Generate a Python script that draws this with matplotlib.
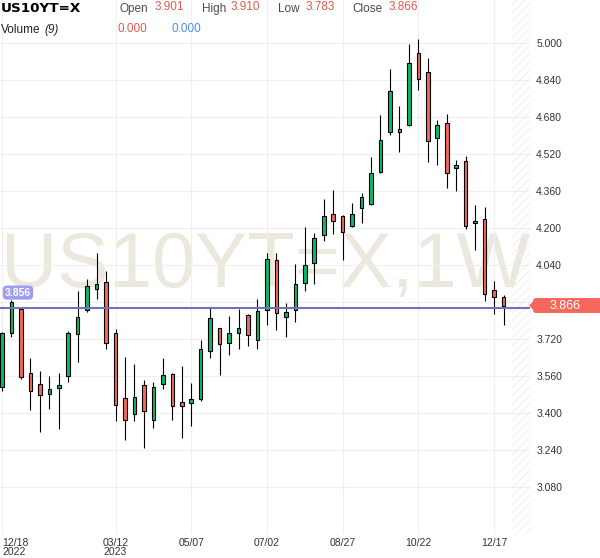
import numpy as np
import pandas as pd
import matplotlib
matplotlib.use('Agg')
import matplotlib.pyplot as plt
from matplotlib.patches import FancyBboxPatch, Polygon

# weekly candles, US 10y yield
week_start = '2022-12-18'
opens = [3.514, 3.745, 3.849, 3.576, 3.528, 3.483, 3.511, 3.563, 3.741, 3.845,
         3.936, 3.966, 3.748, 3.468, 3.398, 3.522, 3.372, 3.528, 3.570, 3.449,
         3.446, 3.463, 3.668, 3.767, 3.706, 3.745, 3.823, 3.719, 3.845, 4.062,
         3.815, 3.845, 3.962, 4.049, 4.170, 4.261, 4.252, 4.209, 4.287, 4.304,
         4.443, 4.617, 4.630, 4.645, 4.959, 4.877, 4.591, 4.654, 4.462, 4.489,
         4.223, 4.241, 3.932, 3.901]
highs = [3.753, 3.890, 3.853, 3.638, 3.583, 3.563, 3.572, 3.754, 3.929, 3.979,
         4.092, 4.017, 3.763, 3.644, 3.611, 3.546, 3.537, 3.637, 3.573, 3.605,
         3.533, 3.719, 3.854, 3.770, 3.819, 3.851, 3.829, 3.893, 4.092, 4.092,
         3.875, 4.046, 4.206, 4.179, 4.326, 4.365, 4.258, 4.309, 4.352, 4.508,
         4.690, 4.890, 4.729, 4.998, 5.020, 4.936, 4.670, 4.695, 4.496, 4.514,
         4.300, 4.294, 3.971, 3.910]
lows = [3.497, 3.728, 3.548, 3.416, 3.319, 3.420, 3.332, 3.537, 3.621, 3.839,
        3.895, 3.676, 3.368, 3.286, 3.368, 3.251, 3.338, 3.504, 3.372, 3.294,
        3.346, 3.455, 3.641, 3.567, 3.654, 3.680, 3.691, 3.678, 3.780, 3.758,
        3.728, 3.793, 3.927, 3.958, 4.145, 4.174, 4.062, 4.205, 4.222, 4.300,
        4.438, 4.604, 4.530, 4.641, 4.799, 4.488, 4.473, 4.376, 4.363, 4.196,
        4.105, 3.884, 3.829, 3.783]
closes = [3.748, 3.881, 3.557, 3.498, 3.481, 3.507, 3.521, 3.747, 3.815, 3.949,
          3.959, 3.706, 3.437, 3.372, 3.472, 3.411, 3.515, 3.566, 3.433, 3.433,
          3.462, 3.680, 3.810, 3.698, 3.745, 3.767, 3.737, 3.841, 4.066, 3.833,
          3.836, 3.958, 4.040, 4.157, 4.252, 4.231, 4.183, 4.261, 4.335, 4.439,
          4.583, 4.794, 4.617, 4.916, 4.846, 4.578, 4.645, 4.439, 4.473, 4.210,
          4.232, 3.914, 3.901, 3.866]
volume = [0.000, 0.000]
ref_line = 3.856

price_ticks = [3.080, 3.240, 3.400, 3.560, 3.720, 3.880, 4.040, 4.200,
               4.360, 4.520, 4.680, 4.840, 5.000]
date_ticks = ['2022-12-18', '2023-03-12', '2023-05-07', '2023-07-02',
              '2023-08-27', '2023-10-22', '2023-12-17']
date_labels = ['12/18\n2022', '03/12\n2023', '05/07', '07/02', '08/27', '10/22', '12/17']

GREEN = '#0bb96b'
RED = '#f5675d'
WM = '#ece8dd'
GRID = '#efefef'

plt.rcParams['hatch.linewidth'] = 0.5

weeks = pd.date_range(week_start, periods=len(closes), freq='W-SUN')
x = np.arange(len(closes))
o = np.array(opens)
c = np.array(closes)
up = c >= o
body_bottom = np.minimum(o, c)
body_h = np.maximum(np.abs(c - o), 0.006)

fig = plt.figure(figsize=(6, 5.58), dpi=100)
ax = fig.add_axes([0, 24/558, 530/600, 534/558])
ax.set_xlim(-0.21, 55.8)
ax.set_ylim(2.878, 5.187)

for s in ax.spines.values():
    s.set_visible(False)

# watermark
ax.text(27.8, 3.946, 'US10YT=X,1W', fontsize=56, family='Liberation Sans',
        color=WM, ha='center', va='baseline', zorder=0)

# grid
tick_pos = [weeks.get_loc(pd.Timestamp(d)) for d in date_ticks]
ax.set_xticks(tick_pos)
ax.set_xticklabels(date_labels, fontsize=7.5, family='Liberation Sans',
                   color='#333333', linespacing=0.9)
ax.get_xticklabels()[0].set_horizontalalignment('left')
ax.set_yticks(price_ticks)
ax.set_yticklabels(['%.3f' % p for p in price_ticks], fontsize=7.5,
                   family='Liberation Sans', color='#333333')
ax.yaxis.tick_right()
ax.tick_params(axis='y', length=0, pad=4.5)
ax.tick_params(axis='x', length=0, pad=3)
ax.grid(True, color=GRID, lw=0.8, zorder=0.5)
ax.set_axisbelow(True)

# future zone
ax.axvspan(53.9, 55.8, fill=False, hatch='////', edgecolor='#e9e9e9', lw=0, zorder=0.6)

# candles
ax.vlines(x, lows, highs, color='black', lw=0.8, zorder=2)
ax.bar(x, body_h, bottom=body_bottom, width=0.38,
       color=np.where(up, GREEN, RED), edgecolor='black', lw=0.8, zorder=2.5)

ax.axhline(ref_line, color='#7272b8', lw=1.5, zorder=3)
ax.text(1.69, ref_line + 0.066, '%.3f' % ref_line, fontsize=7.5, fontweight='bold',
        family='Liberation Sans', color='white', ha='center', va='center', zorder=4,
        bbox=dict(boxstyle='round,pad=0.2,rounding_size=0.4', fc='#9d9df5', ec='none'))

# last price tag on the right axis
fig.canvas.draw()
yd = ax.transData.transform((0, closes[-1]))[1]
tag = FancyBboxPatch((533, yd - 7.5), 70, 15, boxstyle='round,pad=0,rounding_size=3',
                     fc=RED, ec='none', transform=None)
fig.patches.append(tag)
fig.patches.append(Polygon([(529, yd), (534, yd + 5), (534, yd - 5)], closed=True,
                           fc=RED, ec='none', transform=None))
fig.text(565/600, yd/558, '%.3f' % closes[-1], fontsize=9, family='Liberation Sans',
         color='white', ha='center', va='center')

# header
def px(xp, yp):
    return xp/600, 1 - yp/558

fig.text(*px(0.5, 12.5), 'US10YT=X', fontsize=9.7, fontweight='bold',
         family='DejaVu Sans', color='black', va='baseline')
hdr = [('Open', 120, opens[-1], 155), ('High', 202, highs[-1], 230.5),
       ('Low', 278, lows[-1], 306), ('Close', 352, closes[-1], 389)]
for name, xl, val, xv in hdr:
    fig.text(*px(xl, 12), name, fontsize=8.5, family='Liberation Sans',
             color='#4a4a4a', va='baseline')
    fig.text(*px(xv, 10), '%.3f' % val, fontsize=8.5, family='Liberation Sans',
             color='#dd5a4f', va='baseline')
fig.text(*px(0.5, 33), 'Volume', fontsize=8.5, family='Liberation Sans',
         color='#222222', va='baseline')
fig.text(*px(44, 33), '(9)', fontsize=8.5, family='Liberation Sans', style='italic',
         color='#222222', va='baseline')
fig.text(*px(118, 32.5), '%.3f' % volume[0], fontsize=8.5, family='Liberation Sans',
         color='#dd5a4f', va='baseline')
fig.text(*px(172, 32.5), '%.3f' % volume[1], fontsize=8.5, family='Liberation Sans',
         color='#4d8fe8', va='baseline')

fig.savefig('out.png', dpi=100)
